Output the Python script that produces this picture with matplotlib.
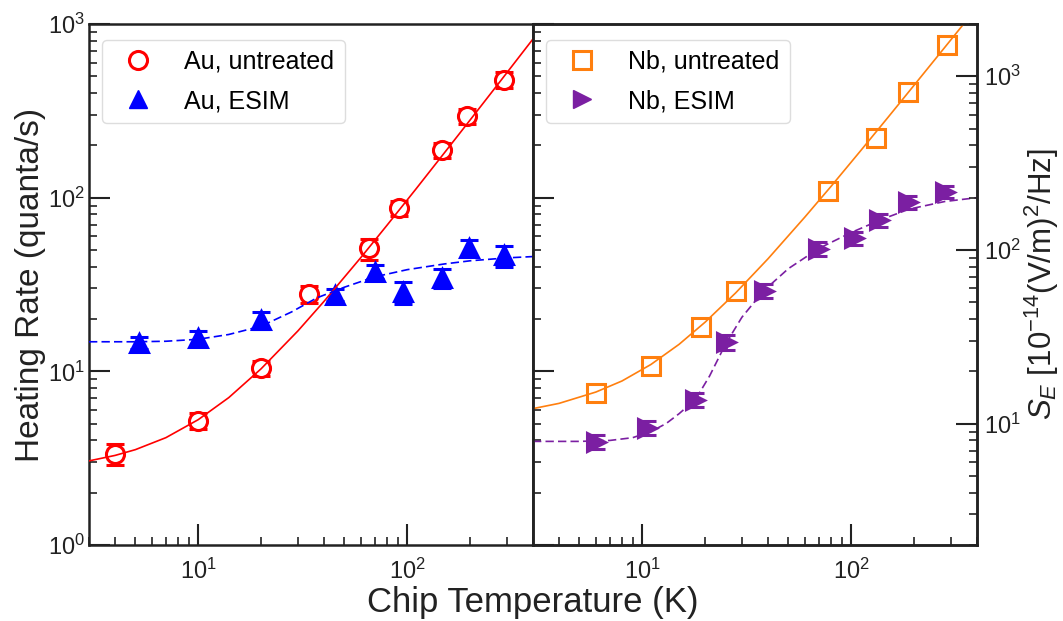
import matplotlib
matplotlib.use("Agg")
import matplotlib.pyplot as plt
from matplotlib.lines import Line2D
from matplotlib.ticker import NullFormatter

plt.rcParams['font.family'] = ['Liberation Sans', 'DejaVu Sans']
plt.rcParams['mathtext.fontset'] = 'custom'
plt.rcParams['mathtext.rm'] = 'Liberation Sans'
plt.rcParams['mathtext.it'] = 'Liberation Sans:italic'
plt.rcParams['mathtext.default'] = 'rm'

# --- Au, untreated (red circles) ---
T_au_u = [4.0, 10.0, 20.0, 34, 66, 91, 147, 193, 290]
hr_au_u = [3.35, 5.2, 10.4, 28, 51, 87, 188, 296, 476]
err_au_u = [0.45, 0.55, 1.0, 3.2, 7, 9, 19, 30, 50]

# --- Au, ESIM (blue triangles) ---
T_au_e = [5.2, 10.0, 20.0, 45, 70, 95, 147, 198, 292]
hr_au_e = [14.6, 15.5, 19.8, 27.6, 37.5, 28.5, 34.5, 51.5, 46.5]
err_au_e = [1.2, 1.5, 2.2, 2.2, 3.5, 4.2, 4.5, 5.5, 6.5]

# --- Nb, untreated (orange squares) ---
T_nb_u = [6.0, 11.0, 19.1, 28.1, 77.8, 131, 187.5, 286]
hr_nb_u = [7.5, 10.8, 17.9, 29.1, 109, 222, 405, 755]
err_nb_u = [0.5, 0.7, 1.1, 1.8, 7, 14, 25, 48]

# --- Nb, ESIM (purple triangles) ---
T_nb_e = [6.0, 10.5, 17.9, 25.1, 38.2, 69.5, 103, 136, 187.5, 282.6]
hr_nb_e = [3.93, 4.73, 6.87, 14.7, 29.1, 50.7, 58.5, 74, 94.5, 108]
err_nb_e = [0.35, 0.45, 0.6, 1.4, 2.7, 4.5, 5, 6.5, 8, 9]

# fit curves
T_fit_au_u = [3, 4, 5, 7, 10, 14, 20, 30, 40, 60, 80, 110, 150, 200, 280, 400]
fit_au_u = [3.05, 3.28, 3.54, 4.15, 5.27, 7.06, 10.35, 17.1, 25.3, 45.2, 69.3, 112, 180, 280, 471, 820]

T_fit_au_e = [3, 5, 7, 10, 14, 20, 28, 37, 50, 70, 100, 150, 200, 300, 400]
fit_au_e = [14.8, 14.8, 14.9, 15.3, 16.3, 18.2, 22.0, 26.5, 30.5, 35.0, 38.5, 41.5, 43.3, 45.0, 45.8]

T_fit_nb_u = [3, 4, 6, 8, 11, 15, 20, 28, 40, 60, 80, 110, 150, 200, 280, 400]
fit_nb_u = [6.1, 6.54, 7.6, 8.8, 10.95, 14.3, 19.2, 28.3, 44.5, 77.3, 116, 184, 290, 444, 732, 1245]

T_fit_nb_e = [3, 5, 7, 9, 11, 13, 15, 18, 21, 25, 30, 38, 50, 70, 100, 140, 190, 280, 400]
fit_nb_e = [3.95, 3.95, 4.0, 4.15, 4.5, 5.0, 5.7, 6.9, 9.4, 14.3, 20.5, 29, 39, 51, 63, 75, 86, 95, 100]

RED = '#ff0000'
BLUE = '#0000ff'
ORANGE = '#ff7f0e'
PURPLE = '#7b1fa2'
INK = '#222222'

fig = plt.figure(figsize=(10.63, 6.21), dpi=100)
W, H = 1063, 621
axl = fig.add_axes([89 / W, (H - 545) / H, 444 / W, 521 / H])
axr = fig.add_axes([533 / W, (H - 545) / H, 444 / W, 521 / H])


def style(ax, left=True, right=False, labelleft=True):
    ax.set_xscale('log')
    ax.set_yscale('log')
    ax.set_xlim(3, 400)
    ax.set_ylim(1, 1000)
    for s in ax.spines.values():
        s.set_linewidth(1.8)
        s.set_color(INK)
    ax.tick_params(which='both', direction='in', top=False, bottom=True,
                   left=left, right=right, labelleft=labelleft,
                   colors=INK, labelcolor=INK)
    ax.tick_params(which='major', length=15, width=1.5, labelsize=17)
    ax.tick_params(which='minor', length=6, width=1.2)
    ax.tick_params(axis='x', pad=10)
    ax.xaxis.set_minor_formatter(NullFormatter())
    ax.yaxis.set_minor_formatter(NullFormatter())


style(axl)
style(axr, labelleft=False)
axl.tick_params(axis='y', pad=3)

# white-faced markers hide the error bar inside them, fit lines go on top
ebkw = dict(ls='none', ms=13, mew=2.2, elinewidth=2, capsize=6.5, capthick=2, zorder=3)

# left panel: Au
axl.plot(T_fit_au_u, fit_au_u, color=RED, lw=1.2, zorder=5)
axl.plot(T_fit_au_e, fit_au_e, color=BLUE, lw=1.2, ls=(0, (5, 2.5)), zorder=5)
axl.errorbar(T_au_u, hr_au_u, yerr=err_au_u, marker='o', mfc='white', mec=RED,
             ecolor=RED, **ebkw)
axl.errorbar(T_au_e, hr_au_e, yerr=err_au_e, marker='^', mfc=BLUE, mec=BLUE,
             ecolor=BLUE, **ebkw)

# right panel: Nb
axr.plot(T_fit_nb_u, fit_nb_u, color=ORANGE, lw=1.2, zorder=5)
axr.plot(T_fit_nb_e, fit_nb_e, color=PURPLE, lw=1.2, ls=(0, (5, 2.5)), zorder=5)
axr.errorbar(T_nb_u, hr_nb_u, yerr=err_nb_u, marker='s', mfc='white', mec=ORANGE,
             ecolor=ORANGE, **ebkw)
axr.errorbar(T_nb_e, hr_nb_e, yerr=err_nb_e, marker='>', mfc=PURPLE, mec=PURPLE,
             ecolor=PURPLE, **ebkw)

# S_E axis on the right
ax2 = axr.twinx()
ax2.set_yscale('log')
ax2.set_ylim(2, 2000)
for s in ax2.spines.values():
    s.set_linewidth(1.8)
    s.set_color(INK)
ax2.tick_params(which='both', direction='in', left=False, right=True,
                labelright=True, colors=INK, labelcolor=INK)
ax2.tick_params(which='major', length=15, width=1.5, labelsize=17, pad=5)
ax2.tick_params(which='minor', length=6, width=1.2)
ax2.yaxis.set_minor_formatter(NullFormatter())
ax2.set_ylabel(r'$\mathit{S}_{\mathit{E}}$ [10$^{-14}$(V/m)$^2$/Hz]',
               fontsize=22.5, color=INK, labelpad=1)

axl.set_ylabel('Heating Rate (quanta/s)', fontsize=24, color=INK, labelpad=1)
fig.text(533 / W, (H - 612) / H, 'Chip Temperature (K)', fontsize=25,
         color=INK, ha='center', va='baseline')

legkw = dict(loc='upper left', bbox_to_anchor=(13 / 444, 1 - 16 / 521),
             borderaxespad=0, fontsize=18, handlelength=2.1, handletextpad=0.8,
             labelspacing=0.6, borderpad=0.4, frameon=True, fancybox=True,
             edgecolor='#dddddd', framealpha=1)

h_l = [Line2D([], [], ls='none', marker='o', ms=13, mew=2.2, mfc='none', mec=RED),
       Line2D([], [], ls='none', marker='^', ms=13, mfc=BLUE, mec=BLUE)]
axl.legend(h_l, ['Au, untreated', 'Au, ESIM'], **legkw)

h_r = [Line2D([], [], ls='none', marker='s', ms=13, mew=2.2, mfc='none', mec=ORANGE),
       Line2D([], [], ls='none', marker='>', ms=13, mfc=PURPLE, mec=PURPLE)]
ax2.legend(h_r, ['Nb, untreated', 'Nb, ESIM'], **legkw)

fig.savefig('out.png', dpi=100)
